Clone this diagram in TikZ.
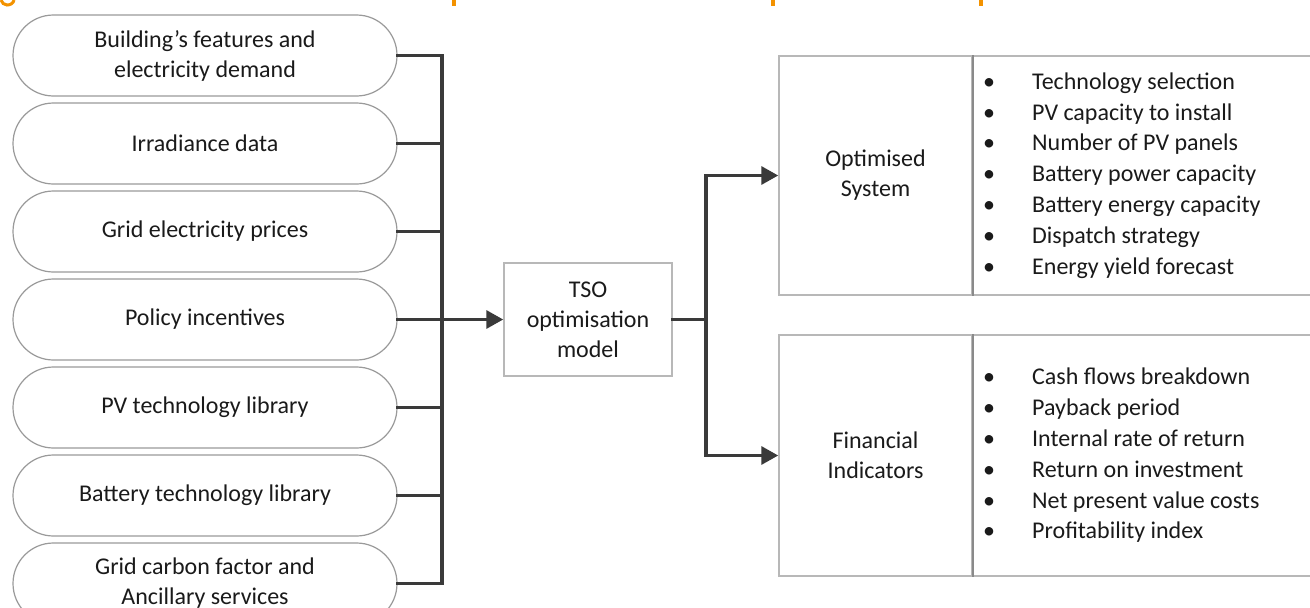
\documentclass[tikz,border=0pt]{standalone}
\usepackage{fontspec}
\setmainfont{Carlito}
\usetikzlibrary{arrows.meta}
\definecolor{linecol}{HTML}{3A3A3A}
\definecolor{pillcol}{HTML}{9A9A9A}
\definecolor{boxcol}{HTML}{B8B8B8}
\definecolor{divcol}{HTML}{8A8A8A}
\definecolor{txtcol}{HTML}{1A1A1A}
\definecolor{titleorange}{HTML}{F39200}
\tikzset{
  pill/.style={draw=pillcol, line width=1.2pt, rounded corners=40.5pt, minimum width=384pt, minimum height=81pt, inner sep=0pt, align=center, text=txtcol, font=\fontsize{24}{30}\selectfont},
  plainbox/.style={draw=boxcol, line width=1.5pt, inner sep=0pt, align=center, text=txtcol, font=\fontsize{24}{30}\selectfont},
  listtext/.style={inner sep=0pt, align=left, text=txtcol, font=\fontsize{24}{30.8}\selectfont, anchor=west},
  conn/.style={draw=linecol, line width=3.4pt, line cap=rect},
  arr/.style={draw=linecol, line width=3.4pt, -{Triangle[length=17pt, width=18pt]}}
}
\newcommand{\bl}[1]{\makebox[49pt][l]{•}#1}
\begin{document}
\begin{tikzpicture}[x=1pt, y=-1pt]
\useasboundingbox (0,0) rectangle (1310,608);
\clip (0,0) rectangle (1310,608);
\fill[white] (0,0) rectangle (1310,608);

% clipped title fragments
\draw[titleorange, line width=3pt] (1,0) to[out=-70, in=180] (7,5) to[out=0, in=-100] (14,0);
\fill[titleorange] (452,0) rectangle (456,6);
\fill[titleorange] (771,0) rectangle (775,6);
\fill[titleorange] (979,0) rectangle (983,6);

% input pills
\node[pill] (p1) at (205,55.5) {Building’s features and\\electricity demand};
\node[pill] (p2) at (205,143.5) {Irradiance data};
\node[pill] (p3) at (205,231.5) {Grid electricity prices};
\node[pill] (p4) at (205,319.5) {Policy incentives};
\node[pill] (p5) at (205,407.5) {PV technology library};
\node[pill] (p6) at (205,495.5) {Battery technology library};
\node[pill] (p7) at (205,583.5) {Grid carbon factor and\\Ancillary services};

% model
\node[plainbox, minimum width=168pt, minimum height=113pt] (tso) at (588,319.5) {TSO\\optimisation\\model};

% output boxes
\node[plainbox, minimum width=193pt, minimum height=239pt] (optL) at (875.5,175.5) {Optimised\\System};
\node[plainbox, minimum width=348pt, minimum height=239pt] (optR) at (1146,175.5) {};
\node[plainbox, minimum width=193pt, minimum height=241pt] (finL) at (875.5,455.5) {Financial\\Indicators};
\node[plainbox, minimum width=348pt, minimum height=241pt] (finR) at (1146,455.5) {};
\draw[divcol, line width=1.5pt] (optL.north east) -- (optL.south east);
\draw[divcol, line width=1.5pt] (finL.north east) -- (finL.south east);

\node[listtext] (optList) at (983,175.5) {\bl{Technology selection}\\\bl{PV capacity to install}\\\bl{Number of PV panels}\\\bl{Battery power capacity}\\\bl{Battery energy capacity}\\\bl{Dispatch strategy}\\\bl{Energy yield forecast}};
\node[listtext] (finList) at (983,455.5) {\bl{Cash flows breakdown}\\\bl{Payback period}\\\bl{Internal rate of return}\\\bl{Return on investment}\\\bl{Net present value costs}\\\bl{Profitability index}};

% connectors
\coordinate (bus) at (442,0);
\coordinate (split) at (706,319.5);
\foreach \p in {p1,p2,p3,p4,p5,p6,p7} {
  \draw[conn] (\p.east) -- (\p.east -| bus);
}
\draw[conn] (p1.east -| bus) -- (p7.east -| bus);
\draw[arr] (p4.east -| bus) -- (tso.west);
\draw[conn] (tso.east) -- (split);
\draw[conn] (optL.west -| split) -- (finL.west -| split);
\draw[arr] (optL.west -| split) -- (optL.west);
\draw[arr] (finL.west -| split) -- (finL.west);
\end{tikzpicture}
\end{document}
